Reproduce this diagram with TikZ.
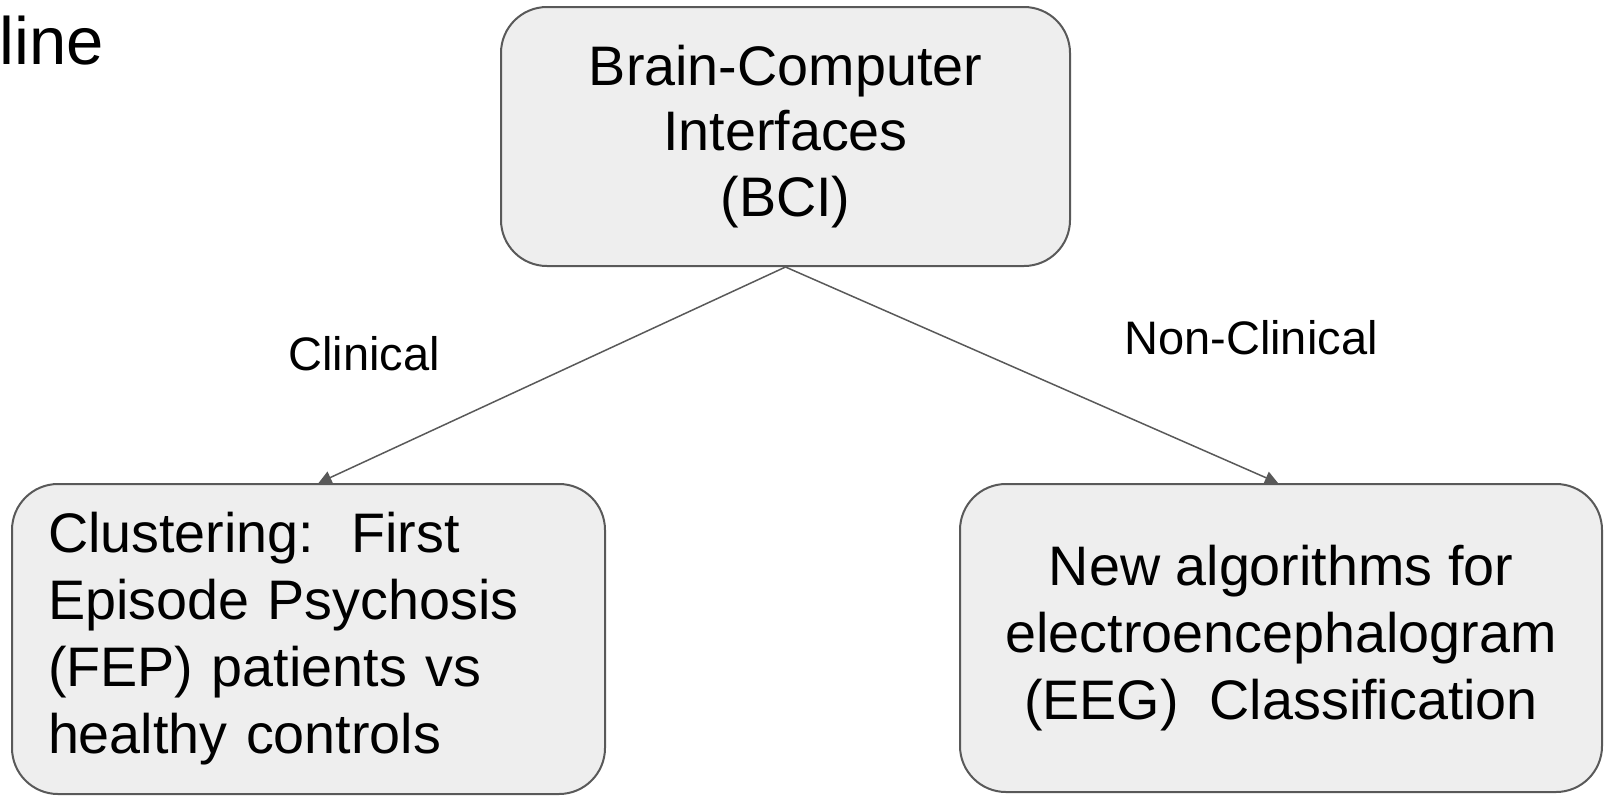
\documentclass[tikz,border=0pt]{standalone}
\usepackage{fontspec}
\setmainfont{Liberation Sans}
\usetikzlibrary{arrows.meta}
\definecolor{boxfill}{HTML}{EEEEEE}
\definecolor{boxline}{HTML}{595959}
\begin{document}
\begin{tikzpicture}[x=1pt,y=-1pt,
  topic/.style={draw=boxline, line width=2pt, fill=boxfill, rounded corners=46pt,
    rectangle, inner sep=0pt, font=\fontsize{55.7pt}{67pt}\selectfont},
  branch/.style={draw=boxline, line width=1.5pt,
    -{Triangle[length=13pt,width=13pt]}},
  tag/.style={font=\fontsize{47pt}{56pt}\selectfont, inner sep=0pt}]
\useasboundingbox (0,0) rectangle (1608,796);

% page heading, cut at the left margin
\node[anchor=base east, inner sep=0pt, font=\fontsize{67pt}{78pt}\selectfont]
  (heading) at (104,64) {line};

% root topic
\node[topic, minimum width=569pt, minimum height=259pt, align=center,
  font=\fontsize{55.7pt}{65.5pt}\selectfont]
  (bci) at (785.5,136.5) {Brain-Computer\\Interfaces\\(BCI)};

% clinical branch
\node[topic, minimum height=310pt, text width=521pt, inner xsep=36pt, align=left]
  (fep) at (308.5,639) {Clustering:\ \ First\\Episode Psychosis\\(FEP) patients vs\\healthy controls};

% non-clinical branch
\node[topic, minimum width=642pt, minimum height=308pt, align=center]
  (eeg) at (1281,638) {New algorithms for\\electroencephalogram\\(EEG)\ \ Classification};

\draw[branch] (bci.south) -- ([xshift=10pt]fep.north);
\draw[branch] (bci.south) -- ([xshift=-3pt]eeg.north);

\node[tag] (clin) at (364,354) {Clinical};
\node[tag] (nonclin) at (1251,338) {Non-Clinical};
\end{tikzpicture}
\end{document}
